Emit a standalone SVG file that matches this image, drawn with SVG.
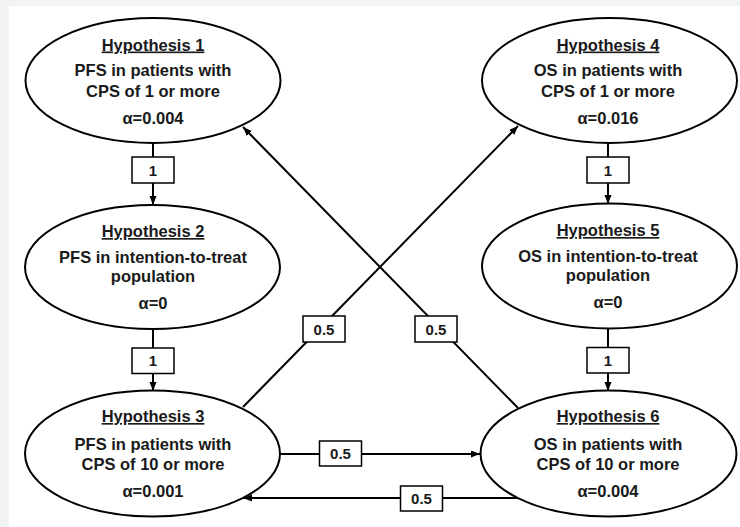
<svg xmlns="http://www.w3.org/2000/svg" width="740" height="527" viewBox="0 0 740 527">
<style>
.el{fill:#fff;stroke:#000;stroke-width:2}
.t{font-family:"Liberation Sans",Arial,sans-serif;font-weight:bold;font-size:16.5px;fill:#1a1a1a;text-anchor:middle}
.h{text-decoration:underline}
.c{stroke:#000;stroke-width:2;fill:none}
.lb{fill:#fff;stroke:#000;stroke-width:1.5}
.lt{font-family:"Liberation Sans",Arial,sans-serif;font-weight:bold;font-size:15px;fill:#1a1a1a;text-anchor:middle}
</style>
<defs>
<marker id="ah" markerUnits="userSpaceOnUse" markerWidth="10" markerHeight="8" refX="9" refY="3.5" orient="auto">
<path d="M0,0 L9,3.5 L0,7 z" fill="#000"/>
</marker>
</defs>
<rect x="0" y="0" width="740" height="527" fill="#f2f3f3"/>
<rect x="9" y="6" width="731" height="521" fill="#fff"/>

<g id="connectors">
<line class="c" x1="153" y1="143" x2="153" y2="205" marker-end="url(#ah)"/>
<line class="c" x1="153" y1="329" x2="153" y2="391" marker-end="url(#ah)"/>
<line class="c" x1="608" y1="143" x2="608" y2="204" marker-end="url(#ah)"/>
<line class="c" x1="608" y1="329" x2="608" y2="391" marker-end="url(#ah)"/>
<line class="c" x1="243" y1="407" x2="518" y2="126" marker-end="url(#ah)"/>
<line class="c" x1="518" y1="408" x2="243" y2="127" marker-end="url(#ah)"/>
<line class="c" x1="281" y1="454" x2="480" y2="454" marker-end="url(#ah)"/>
<line class="c" x1="520" y1="498" x2="243" y2="498" marker-end="url(#ah)"/>
<g id="lbl1"><rect class="lb" x="132" y="157" width="42" height="26"/><text class="lt" x="153" y="175.5">1</text></g>
<g id="lbl2"><rect class="lb" x="132" y="348" width="42" height="25.5"/><text class="lt" x="153" y="366">1</text></g>
<g id="lbl3"><rect class="lb" x="587" y="157" width="42" height="26"/><text class="lt" x="608" y="175.5">1</text></g>
<g id="lbl4"><rect class="lb" x="587" y="347.5" width="42" height="25.5"/><text class="lt" x="608" y="365.5">1</text></g>
<g id="lbl5"><rect class="lb" x="303" y="316" width="42" height="26"/><text class="lt" x="324" y="334.5">0.5</text></g>
<g id="lbl6"><rect class="lb" x="415" y="316" width="42" height="26"/><text class="lt" x="436" y="334.5">0.5</text></g>
<g id="lbl7"><rect class="lb" x="319.5" y="441" width="42" height="25"/><text class="lt" x="340.5" y="459">0.5</text></g>
<g id="lbl8"><rect class="lb" x="400.5" y="486" width="42" height="25"/><text class="lt" x="421.5" y="504">0.5</text></g>
</g>

<g id="h1">
<ellipse class="el" cx="153" cy="80.5" rx="127.5" ry="62.5"/>
<text class="t h" x="153" y="50.5">Hypothesis 1</text>
<text class="t" x="153" y="76">PFS in patients with</text>
<text class="t" x="153" y="96.5">CPS of 1 or more</text>
<text class="t" x="153" y="123.5">α=0.004</text>
</g>
<g id="h2">
<ellipse class="el" cx="152.5" cy="267" rx="127.5" ry="62"/>
<text class="t h" x="153" y="237">Hypothesis 2</text>
<text class="t" x="153" y="263">PFS in intention-to-treat</text>
<text class="t" x="153" y="282">population</text>
<text class="t" x="153" y="309">α=0</text>
</g>
<g id="h3">
<ellipse class="el" cx="152.5" cy="453.5" rx="127.5" ry="63"/>
<text class="t h" x="153" y="422">Hypothesis 3</text>
<text class="t" x="153" y="450">PFS in patients with</text>
<text class="t" x="153" y="470">CPS of 10 or more</text>
<text class="t" x="153" y="496.5">α=0.001</text>
</g>
<g id="h4">
<ellipse class="el" cx="609.5" cy="80.5" rx="127.5" ry="62.5"/>
<text class="t h" x="608" y="50.5">Hypothesis 4</text>
<text class="t" x="608" y="76">OS in patients with</text>
<text class="t" x="608" y="96.5">CPS of 1 or more</text>
<text class="t" x="608" y="123.5">α=0.016</text>
</g>
<g id="h5">
<ellipse class="el" cx="609.5" cy="266" rx="127.5" ry="62.5"/>
<text class="t h" x="608" y="236">Hypothesis 5</text>
<text class="t" x="608" y="262">OS in intention-to-treat</text>
<text class="t" x="608" y="281">population</text>
<text class="t" x="608" y="308">α=0</text>
</g>
<g id="h6">
<ellipse class="el" cx="608.5" cy="453.5" rx="128" ry="63"/>
<text class="t h" x="608" y="422">Hypothesis 6</text>
<text class="t" x="608" y="450">OS in patients with</text>
<text class="t" x="608" y="470">CPS of 10 or more</text>
<text class="t" x="608" y="496.5">α=0.004</text>
</g>
</svg>
